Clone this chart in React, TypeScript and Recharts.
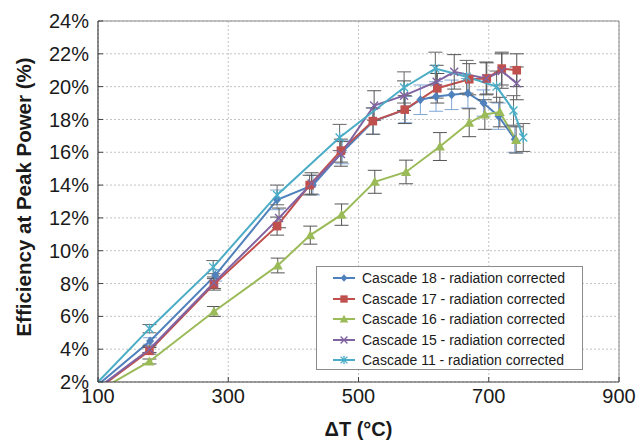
import React from 'react';
import {
  LineChart,
  Line,
  XAxis,
  YAxis,
  CartesianGrid,
  ErrorBar,
  ReferenceLine,
  Legend,
  Label
} from 'recharts';

// ---------- data ----------

const xTicks = [100, 300, 500, 700, 900];
const yTicks = [2, 4, 6, 8, 10, 12, 14, 16, 18, 20, 22, 24];

// Cascade 18
const c18T = [100, 180, 280, 375, 430, 475, 523, 572, 595, 619, 643, 668, 692, 715, 740];
const c18Eff = [1.83, 4.5, 8.5, 13.1, 14.0, 16.0, 17.9, 18.6, 19.2, 19.4, 19.5, 19.6, 19.0, 18.2, 16.8];
const c18Err = [null, 0.2, 0.35, 0.6, 0.6, 0.7, 0.8, 0.8, 0.9, 0.9, 0.9, 0.9, 0.8, 0.8, 0.8];

// Cascade 17
const c17T = [100, 179, 278, 375, 425, 473, 522, 571, 621, 670, 697, 720, 743];
const c17Eff = [1.58, 3.9, 7.95, 11.5, 14.0, 16.1, 17.9, 18.6, 19.9, 20.45, 20.5, 21.1, 21.0];
const c17Err = [null, 0.2, 0.35, 0.55, 0.6, 0.7, 0.8, 0.85, 0.9, 0.95, 0.95, 1.0, 1.0];

// Cascade 16
const c16T = [100, 179, 278, 376, 426, 474, 525, 573, 625, 670, 694, 717, 742];
const c16Eff = [1.45, 3.25, 6.3, 9.1, 10.95, 12.2, 14.2, 14.8, 16.35, 17.8, 18.3, 18.45, 16.75];
const c16Err = [null, 0.15, 0.3, 0.45, 0.55, 0.65, 0.7, 0.72, 0.85, 0.85, 0.9, 0.9, 0.8];

// Cascade 15
const c15T = [100, 179, 278, 378, 428, 473, 524, 570, 620, 647, 696, 720, 743];
const c15Eff = [1.64, 4.0, 8.05, 12.0, 14.1, 15.9, 18.85, 19.45, 20.3, 20.9, 20.5, 20.95, 20.2];
const c15Err = [null, 0.2, 0.35, 0.6, 0.65, 0.75, 0.9, 0.9, 1.0, 1.05, 1.0, 1.05, 1.0];

// Cascade 11
const c11T = [100, 179, 277, 375, 471, 570, 618, 666, 712, 738, 753];
const c11Eff = [2.0, 5.25, 9.0, 13.4, 16.9, 19.95, 21.1, 20.6, 20.0, 18.55, 16.9];
const c11Err = [null, 0.25, 0.4, 0.6, 0.8, 0.95, 1.0, 1.0, 0.95, 0.9, 0.85];

const FONT = '"Liberation Sans", Arial, sans-serif';

type Kind = 'diamond' | 'square' | 'triangle' | 'x' | 'star';

const zip = (t: number[], eff: number[], err: (number | null)[]) =>
  t.map((v, i) => ({ t: v, eff: eff[i], err: err[i] }));

const series = [
  { id: 'c18', name: 'Cascade 18 - radiation corrected', color: '#4F81BD', errColor: '#7fa6d6', kind: 'diamond' as Kind, data: zip(c18T, c18Eff, c18Err) },
  { id: 'c17', name: 'Cascade 17 - radiation corrected', color: '#C0504D', errColor: '#555', kind: 'square' as Kind, data: zip(c17T, c17Eff, c17Err) },
  { id: 'c16', name: 'Cascade 16 - radiation corrected', color: '#9BBB59', errColor: '#555', kind: 'triangle' as Kind, data: zip(c16T, c16Eff, c16Err) },
  { id: 'c15', name: 'Cascade 15 - radiation corrected', color: '#8064A2', errColor: '#555', kind: 'x' as Kind, data: zip(c15T, c15Eff, c15Err) },
  { id: 'c11', name: 'Cascade 11 - radiation corrected', color: '#4BACC6', errColor: '#666', kind: 'star' as Kind, data: zip(c11T, c11Eff, c11Err) }
];

// ---------- markers ----------

function Marker({ kind, cx, cy, color, s = 1 }: { kind: Kind; cx: number; cy: number; color: string; s?: number }) {
  switch (kind) {
    case 'diamond':
      return <path d={`M${cx},${cy - 4.5 * s}L${cx + 4 * s},${cy}L${cx},${cy + 4.5 * s}L${cx - 4 * s},${cy}Z`} fill={color} />;
    case 'square':
      return <rect x={cx - 4.3 * s} y={cy - 4.3 * s} width={8.6 * s} height={8.6 * s} fill={color} />;
    case 'triangle':
      return <path d={`M${cx},${cy - 5 * s}L${cx + 5 * s},${cy + 4 * s}L${cx - 5 * s},${cy + 4 * s}Z`} fill={color} />;
    case 'x':
      return (
        <path
          d={`M${cx - 4 * s},${cy - 4 * s}L${cx + 4 * s},${cy + 4 * s}M${cx - 4 * s},${cy + 4 * s}L${cx + 4 * s},${cy - 4 * s}`}
          stroke={color}
          strokeWidth={1.4}
        />
      );
    default:
      return (
        <path
          d={`M${cx - 4 * s},${cy - 4 * s}L${cx + 4 * s},${cy + 4 * s}M${cx - 4 * s},${cy + 4 * s}L${cx + 4 * s},${cy - 4 * s}M${cx},${cy - 5 * s}L${cx},${cy + 5 * s}`}
          stroke={color}
          strokeWidth={1.3}
        />
      );
  }
}

const makeDot = (kind: Kind, color: string) => (p: any) => {
  if (p.index === 0 || p.value < 2) return <g key={`d-${p.index}`} />;
  return (
    <g key={`d-${p.index}`}>
      <Marker kind={kind} cx={p.cx} cy={p.cy} color={color} />
    </g>
  );
};

// ---------- legend ----------

function LegendBox() {
  return (
    <div
      style={{
        boxSizing: 'border-box',
        width: 267,
        height: 104,
        border: '1px solid #8c8c8c',
        background: '#fff',
        paddingTop: 1,
        fontFamily: FONT,
        fontSize: 14,
        color: '#1a1a1a'
      }}
    >
      {series.map((s) => (
        <div key={s.id} style={{ display: 'flex', alignItems: 'center', height: 20.5 }}>
          <svg width={22} height={14} style={{ marginLeft: 16, marginRight: 7 }}>
            <line x1={0} y1={7} x2={22} y2={7} stroke={s.color} strokeWidth={2} />
            <Marker kind={s.kind} cx={11} cy={7} color={s.color} s={0.85} />
          </svg>
          <span style={{ whiteSpace: 'nowrap' }}>{s.name}</span>
        </div>
      ))}
    </div>
  );
}

// ---------- chart ----------

export default function App() {
  return (
    <div style={{ position: 'absolute', left: 0, top: 0, background: '#fff' }}>
      <LineChart
        width={637}
        height={445}
        margin={{ top: 21, right: 18, left: 0, bottom: 0 }}
      >
        <CartesianGrid stroke="#c4c4c4" strokeDasharray="2 2" />

        <XAxis
          dataKey="t"
          type="number"
          domain={[100, 900]}
          ticks={xTicks}
          interval={0}
          allowDataOverflow
          height={63}
          axisLine={{ stroke: '#404040', strokeWidth: 1.2 }}
          tickLine={{ stroke: '#404040' }}
          tickSize={-5}
          tickMargin={12}
          tick={{ fill: '#1a1a1a', fontSize: 20, fontFamily: FONT }}
        >
          <Label
            content={({ viewBox }: any) => (
              <text
                x={viewBox.x + viewBox.width / 2}
                y={viewBox.y + 54}
                textAnchor="middle"
                fontFamily={FONT}
                fontWeight="bold"
                fontSize={20}
                fill="#1a1a1a"
              >
                ΔT (°C)
              </text>
            )}
          />
        </XAxis>

        <YAxis
          type="number"
          domain={[2, 24]}
          ticks={yTicks}
          interval={0}
          allowDataOverflow
          width={98}
          axisLine={{ stroke: '#404040', strokeWidth: 1.2 }}
          tickLine={{ stroke: '#404040' }}
          tickSize={-5}
          tickMargin={14}
          tickFormatter={(v: number) => `${v}%`}
          tick={{ fill: '#1a1a1a', fontSize: 20, fontFamily: FONT }}
        >
          <Label
            content={() => (
              <text
                x={23}
                y={197}
                transform="rotate(-90 23 197)"
                textAnchor="middle"
                dominantBaseline="central"
                fontFamily={FONT}
                fontWeight="bold"
                fontSize={20.5}
                fill="#1a1a1a"
              >
                Efficiency at Peak Power (%)
              </text>
            )}
          />
        </YAxis>

        <ReferenceLine y={24} stroke="#8a8a8a" />
        <ReferenceLine x={900} stroke="#8a8a8a" />

        {series.map((s) => (
          <Line
            key={s.id}
            data={s.data}
            dataKey="eff"
            name={s.name}
            stroke={s.color}
            strokeWidth={2}
            dot={makeDot(s.kind, s.color)}
            activeDot={false}
            isAnimationActive={false}
          >
            <ErrorBar dataKey="err" direction="y" width={7} stroke={s.errColor} strokeWidth={1} />
          </Line>
        ))}

        <Legend
          layout="vertical"
          align="center"
          verticalAlign="middle"
          content={<LegendBox />}
          wrapperStyle={{ position: 'absolute', left: 316, top: 266, width: 267, height: 104 }}
        />
      </LineChart>
    </div>
  );
}
